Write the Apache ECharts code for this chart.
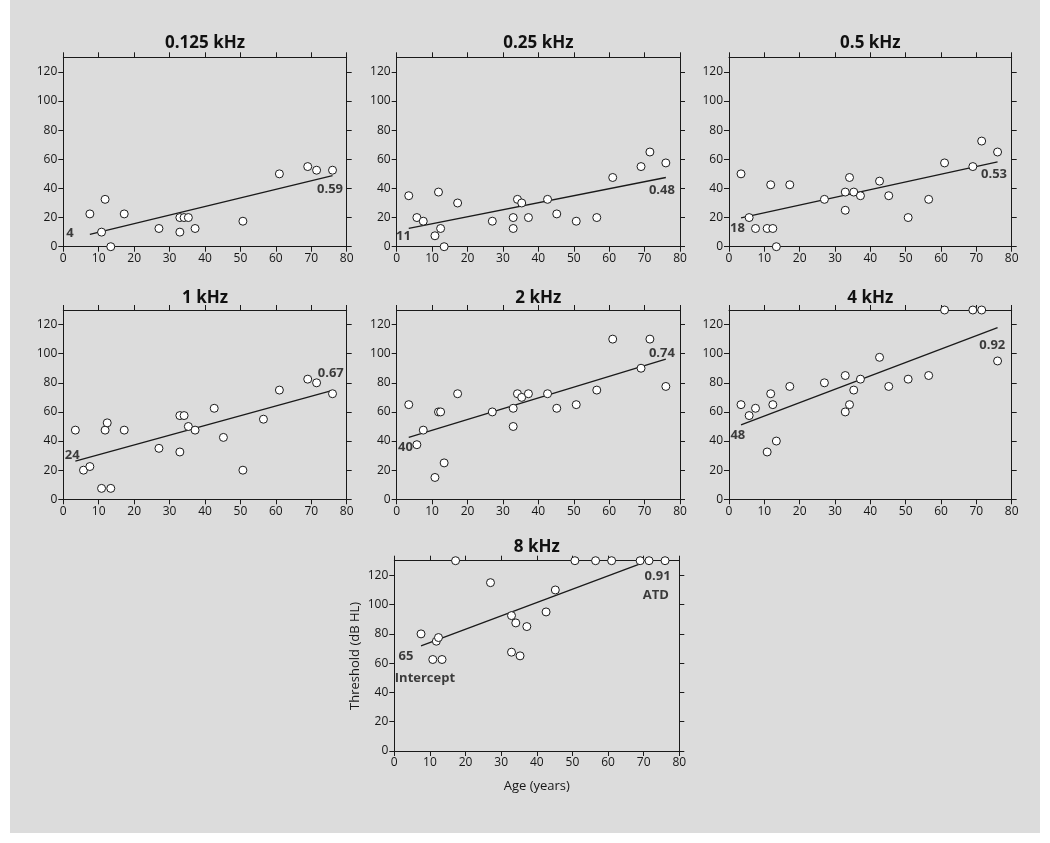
<!DOCTYPE html>
<html><head><meta charset="utf-8">
<script src="https://cdn.jsdelivr.net/npm/echarts@6/dist/echarts.min.js"></script>
<style>
html,body{margin:0;padding:0;background:#fff}
#bg{position:absolute;left:10px;top:0;width:1030px;height:833px;background:#dcdcdc}
#c{position:absolute;left:0;top:0;width:1050px;height:843px}
</style></head>
<body><div id="bg"></div><div id="c"></div>
<script>
// ---- data ----
const panelTitles = ['0.125 kHz', '0.25 kHz', '0.5 kHz', '1 kHz', '2 kHz', '4 kHz', '8 kHz'];
const ages = [3.4, 5.7, 7.5, 10.8, 11.8, 12.4, 13.4, 17.2, 27.0, 32.9, 32.9, 34.1, 35.3, 37.2, 42.6, 45.2, 50.7, 56.5, 61.0, 69.0, 71.5, 76.0];
const thr0125 = [null, null, 22.5, 10, 32.5, null, 0, 22.5, 12.5, 20, 10, 20, 20, 12.5, null, null, 17.5, null, 50, 55, 52.5, 52.5];
const thr025 = [35, 20, 17.5, 7.5, 37.5, 12.5, 0, 30, 17.5, 20, 12.5, 32.5, 30, 20, 32.5, 22.5, 17.5, 20, 47.5, 55, 65, 57.5];
const thr05 = [50, 20, 12.5, 12.5, 42.5, 12.5, 0, 42.5, 32.5, 37.5, 25, 47.5, 37.5, 35, 45, 35, 20, 32.5, 57.5, 55, 72.5, 65];
const thr1 = [47.5, 20, 22.5, 7.5, 47.5, 52.5, 7.5, 47.5, 35, 57.5, 32.5, 57.5, 50, 47.5, 62.5, 42.5, 20, 55, 75, 82.5, 80, 72.5];
const thr2 = [65, 37.5, 47.5, 15, 60, 60, 25, 72.5, 60, 62.5, 50, 72.5, 70, 72.5, 72.5, 62.5, 65, 75, 110, 90, 110, 77.5];
const thr4 = [65, 57.5, 62.5, 32.5, 72.5, 65, 40, 77.5, 80, 85, 60, 65, 75, 82.5, 97.5, 77.5, 82.5, 85, 130, 130, 130, 95];
const thr8 = [null, null, 80, 62.5, 75, 77.5, 62.5, 130, 115, 92.5, 67.5, 87.5, 65, 85, 95, 110, 130, 130, 130, 130, 130, 130];
const intercepts = ['4', '11', '18', '24', '40', '48', '65'];
const slopes = ['0.59', '0.48', '0.53', '0.67', '0.74', '0.92', '0.91'];
const fitStart = [[7.5, 8.4], [3.4, 12.6], [3.4, 19.8], [3.4, 26.3], [3.4, 42.5], [3.4, 51.1], [7.5, 71.8]];
const fitEnd = [[76, 48.8], [76, 47.5], [76, 58.3], [75.5, 74.5], [76, 96.2], [76, 117.9], [69, 127.8]];
const yTickValues = [0, 20, 40, 60, 80, 100, 120];
const extraLabels = ['Intercept', 'ATD'];

// ---- layout ----
const FONT = '"Open Sans", "Noto Sans", sans-serif';
const grids = [
  {left: 63.3, top: 57.3, width: 283.4, height: 189.4},
  {left: 396.7, top: 57.3, width: 283.3, height: 189.4},
  {left: 729, top: 57.3, width: 282.7, height: 189.4},
  {left: 63.3, top: 310, width: 283.4, height: 189.3},
  {left: 396.7, top: 310, width: 283.3, height: 189.3},
  {left: 729, top: 310, width: 282.7, height: 189.3},
  {left: 394.3, top: 560.7, width: 285, height: 190.3}
];
const titleY = [43.3, 43.3, 43.3, 297.7, 297.7, 297.7, 546.7];
// annotation anchor positions (data coords) per panel
const interceptPos = [[1.9, 9.1], [1.9, 7.3], [2.4, 12.3], [2.5, 30.1], [2.5, 35.6], [2.5, 44], [3.3, 64.6]];
const slopePos = [[75.3, 39.3], [74.9, 38.4], [75, 49.8], [75.5, 86.3], [74.9, 100.5], [74.5, 105.8], [73.9, 119.3]];
const extraPos = [[8.6, 49.7], [73.4, 106.3]];

const thrAll = [thr0125, thr025, thr05, thr1, thr2, thr4, thr8];
const C = '#1a1a1a';
const TXT = '#161616';

const option = {
  animation: false,
  grid: [], xAxis: [], yAxis: [], series: [],
  graphic: { elements: [] }
};

grids.forEach((g, i) => {
  option.grid.push({left: g.left, top: g.top, width: g.width, height: g.height, containLabel: false});
  const lineStyle = {color: C, width: 1};
  const xBase = {
    gridIndex: i, type: 'value', min: 0, max: 80, interval: 10,
    axisLine: {show: true, onZero: false, lineStyle},
    axisTick: {show: true, length: 5, lineStyle},
    splitLine: {show: false}
  };
  option.xAxis.push(Object.assign({}, xBase, {
    position: 'bottom',
    axisLabel: {show: true, color: TXT, fontSize: 12, margin: 6, fontFamily: FONT},
    name: i === 6 ? 'Age (years)' : '',
    nameLocation: 'middle', nameGap: 29,
    nameTextStyle: {color: TXT, fontSize: 13, fontFamily: FONT}
  }));
  option.xAxis.push(Object.assign({}, xBase, {position: 'top', axisLabel: {show: false}}));
  const yBase = {
    gridIndex: i, type: 'value', min: 0, max: 130, interval: 20,
    axisLine: {show: true, onZero: false, lineStyle},
    axisTick: {show: true, length: 5, lineStyle, customValues: yTickValues},
    splitLine: {show: false}
  };
  option.yAxis.push(Object.assign({}, yBase, {
    position: 'left',
    axisLabel: {show: true, color: TXT, fontSize: 12, margin: 6, fontFamily: FONT,
      customValues: yTickValues, formatter: v => (v > 120 ? '' : String(v))},
    name: i === 6 ? 'Threshold (dB HL)' : '',
    nameLocation: 'middle', nameGap: 33,
    nameTextStyle: {color: TXT, fontSize: 13, fontFamily: FONT}
  }));
  option.yAxis.push(Object.assign({}, yBase, {position: 'right', axisLabel: {show: false}}));

  const xi = i * 2, yi = i * 2;
  // regression line
  option.series.push({
    type: 'line', xAxisIndex: xi, yAxisIndex: yi,
    data: [fitStart[i], fitEnd[i]], symbol: 'none', silent: true, z: 2,
    lineStyle: {color: C, width: 1.3}
  });
  // data points
  const pts = [];
  ages.forEach((a, k) => { if (thrAll[i][k] !== null) pts.push([a, thrAll[i][k]]); });
  option.series.push({
    type: 'scatter', xAxisIndex: xi, yAxisIndex: yi, data: pts, clip: false,
    symbol: 'circle', symbolSize: 8, z: 3,
    itemStyle: {color: '#fff', borderColor: C, borderWidth: 1, opacity: 1}
  });
  // annotations
  const ann = [
    {value: interceptPos[i], t: intercepts[i]},
    {value: slopePos[i], t: slopes[i]}
  ];
  if (i === 6) {
    ann.push({value: extraPos[0], t: extraLabels[0]});
    ann.push({value: extraPos[1], t: extraLabels[1]});
  }
  option.series.push({
    type: 'scatter', xAxisIndex: xi, yAxisIndex: yi, symbolSize: 0, silent: true, z: 4,
    data: ann.map(a => ({value: a.value, label: {formatter: a.t}})),
    label: {show: true, position: 'inside', color: '#111', fontSize: 13, fontWeight: 'bold', fontFamily: FONT}
  });
  // panel title
  option.graphic.elements.push({
    type: 'text', x: g.left + g.width / 2, y: titleY[i], silent: true,
    style: {text: panelTitles[i], align: 'center', verticalAlign: 'middle',
      fontSize: 17, fontWeight: 'bold', fontFamily: FONT, fill: '#111'}
  });
});

const chart = echarts.init(document.getElementById('c'), null, {renderer: 'canvas'});
chart.setOption(option);
</script>
</body></html>
